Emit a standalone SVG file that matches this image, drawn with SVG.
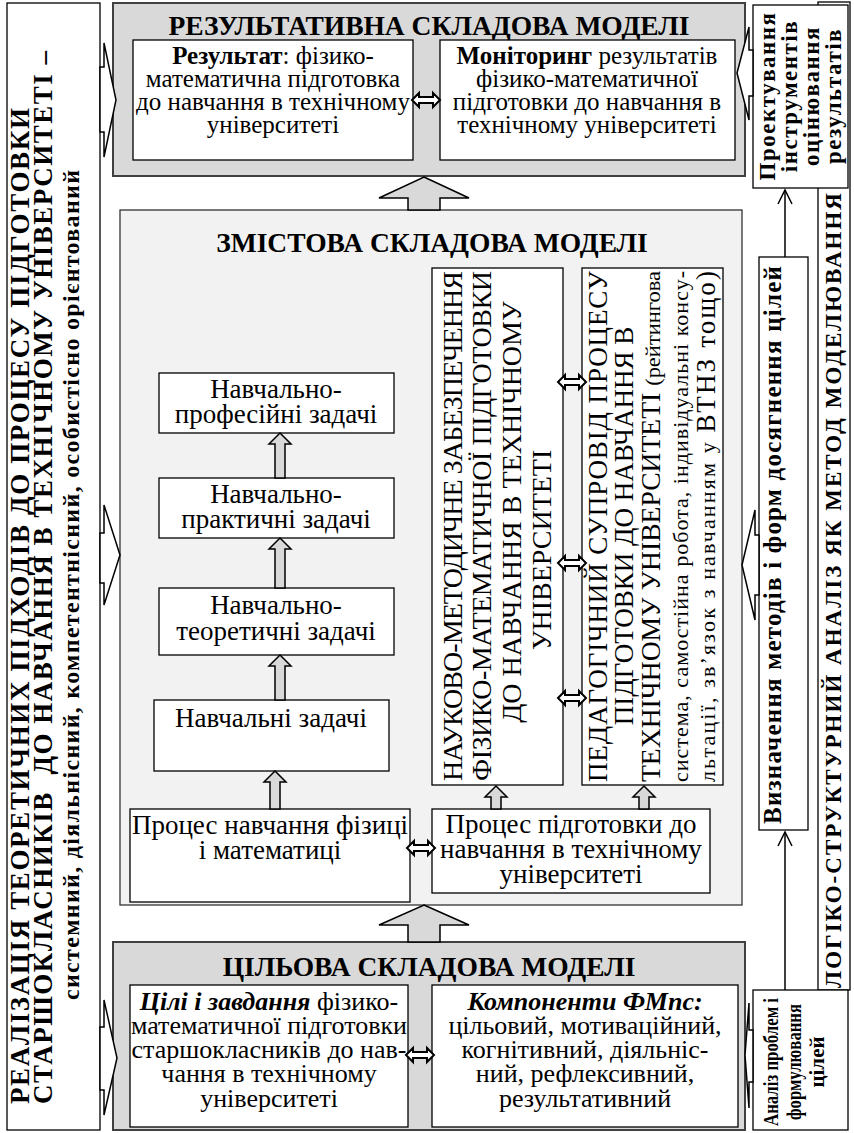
<svg xmlns="http://www.w3.org/2000/svg" width="854" height="1133" viewBox="0 0 854 1133" font-family="'Liberation Serif', serif">
<style>
text{font-family:"Liberation Serif",serif;fill:#000}
.b{font-weight:bold}
.bi{font-weight:bold;font-style:italic}
.t{font-size:25px;text-anchor:middle}
.tc{font-size:27px;text-anchor:middle}
.tg{font-size:26px;text-anchor:middle}
.h{font-size:27.5px;font-weight:bold;text-anchor:middle}
.v{font-size:28px}
.v2{font-size:27px}
.s{font-size:22px}
.rb{font-size:23px;font-weight:bold;text-anchor:middle;letter-spacing:1.5px}
.wb{fill:#fff;stroke:#000;stroke-width:1.3}
.gb{fill:#d9d9d9;stroke:#404040;stroke-width:2}
.lb{fill:#f2f2f2;stroke:#333;stroke-width:1.3}
.ha{fill:#fff;stroke:#000;stroke-width:1.5}
.ga{fill:#d9d9d9;stroke:#000;stroke-width:1.5}
.dbl{fill:#fff;stroke:#000;stroke-width:2}
.ln{fill:none;stroke:#000;stroke-width:1.5}
</style>
<defs>
<path id="dbl" class="dbl" d="M-14,0 L-7,-7 L-7,-3 L7,-3 L7,-7 L14,0 L7,7 L7,3 L-7,3 L-7,7 Z"/>
</defs>

<g id="approaches">
<rect class="wb" x="7" y="3" width="93" height="1127"/>
<text class="b" style="font-size:27px" transform="translate(29,1104) rotate(-90)" textLength="996" lengthAdjust="spacing">РЕАЛІЗАЦІЯ ТЕОРЕТИЧНИХ ПІДХОДІВ ДО ПРОЦЕСУ ПІДГОТОВКИ</text>
<text class="b" style="font-size:27px" transform="translate(52,1104) rotate(-90)" textLength="1053" lengthAdjust="spacing" xml:space="preserve">СТАРШОКЛАСНИКІВ  ДО НАВЧАННЯ В ТЕХНІЧНОМУ УНІВЕРСИТЕТІ –</text>
<text class="b" style="font-size:24px;text-anchor:middle" transform="translate(79,585) rotate(-90)" textLength="830" lengthAdjust="spacing">системний, діяльнісний, компетентнісний, особистісно орієнтований</text>
</g>

<g id="logic">
<rect class="wb" x="818" y="2" width="32" height="988"/>
<text class="b" style="font-size:23px" transform="translate(841,988) rotate(-90)" textLength="795" lengthAdjust="spacing">ЛОГІКО-СТРУКТУРНИЙ АНАЛІЗ ЯК МЕТОД МОДЕЛЮВАННЯ</text>
</g>

<g id="design">
<rect class="wb" x="753" y="5" width="95" height="183"/>
<g transform="translate(0,96) rotate(-90)">
<text class="rb" x="0" y="775">Проектування</text>
<text class="rb" x="0" y="797">інструментів</text>
<text class="rb" x="0" y="819">оцінювання</text>
<text class="rb" x="0" y="841">результатів</text>
</g>
</g>

<g id="methods">
<rect class="wb" x="759" y="257" width="49" height="573"/>
<text class="b" style="font-size:25px" transform="translate(781,824) rotate(-90)" textLength="558" lengthAdjust="spacing">Визначення методів і форм досягнення цілей</text>
</g>

<g id="analysis">
<rect class="wb" x="753" y="990" width="95" height="140"/>
<g transform="translate(0,1062) rotate(-90)" style="font-size:21px;font-weight:bold;text-anchor:middle">
<text x="0" y="778" textLength="128" lengthAdjust="spacingAndGlyphs">Аналіз проблем і</text>
<text x="0" y="801" textLength="116" lengthAdjust="spacingAndGlyphs">формулювання</text>
<text x="0" y="824">цілей</text>
</g>
</g>

<g id="result">
<rect class="gb" x="113" y="3" width="632" height="173"/>
<text class="h" x="429" y="35">РЕЗУЛЬТАТИВНА СКЛАДОВА МОДЕЛІ</text>
<rect class="wb" x="133" y="40" width="280" height="120"/>
<text class="t" x="273" y="64"><tspan class="b">Результат</tspan>: фізико-</text>
<text class="t" x="273" y="87">математична підготовка</text>
<text class="t" x="273" y="110">до навчання в технічному</text>
<text class="t" x="273" y="133">університеті</text>
<rect class="wb" x="440" y="40" width="295" height="120"/>
<text class="t" x="587" y="64"><tspan class="b">Моніторинг</tspan> результатів</text>
<text class="t" x="587" y="87">фізико-математичної</text>
<text class="t" x="587" y="110">підготовки до навчання в</text>
<text class="t" x="587" y="133">технічному університеті</text>
</g>

<g id="content">
<rect class="lb" x="120" y="210" width="622" height="695"/>
<text class="h" x="432" y="252">ЗМІСТОВА СКЛАДОВА МОДЕЛІ</text>
</g>

<g id="task-prof">
<rect class="wb" x="159" y="373" width="235" height="60"/>
<text class="tc" x="276" y="398">Навчально-</text>
<text class="tc" x="276" y="423">професійні задачі</text>
</g>
<g id="task-pract">
<rect class="wb" x="159" y="478" width="235" height="60"/>
<text class="tc" x="276" y="503">Навчально-</text>
<text class="tc" x="276" y="528">практичні задачі</text>
</g>
<g id="task-theor">
<rect class="wb" x="159" y="588" width="235" height="67"/>
<text class="tc" x="276" y="614">Навчально-</text>
<text class="tc" x="276" y="640">теоретичні задачі</text>
</g>
<g id="task-basic">
<rect class="wb" x="154" y="700" width="235" height="71"/>
<text class="tc" x="271" y="727">Навчальні задачі</text>
</g>
<g id="proc-learn">
<rect class="wb" x="130" y="809" width="280" height="93"/>
<text class="tc" x="270" y="834">Процес навчання фізиці</text>
<text class="tc" x="270" y="859">і математиці</text>
</g>
<g id="proc-prep">
<rect class="wb" x="432" y="809" width="278" height="84"/>
<text class="tc" x="571" y="833">Процес підготовки до</text>
<text class="tc" x="571" y="858">навчання в технічному</text>
<text class="tc" x="571" y="883">університеті</text>
</g>

<g id="method-support">
<rect class="wb" x="432" y="268" width="131" height="517"/>
<g transform="translate(0,526) rotate(-90)" style="text-anchor:middle">
<text class="v" x="0" y="462" textLength="510" lengthAdjust="spacing">НАУКОВО-МЕТОДИЧНЕ ЗАБЕЗПЕЧЕННЯ</text>
<text class="v" x="0" y="491" textLength="510" lengthAdjust="spacing">ФІЗИКО-МАТЕМАТИЧНОЇ ПІДГОТОВКИ</text>
<text class="v" x="14" y="521">ДО НАВЧАННЯ В ТЕХНІЧНОМУ</text>
<text class="v" x="-24" y="551">УНІВЕРСИТЕТІ</text>
</g>
</g>

<g id="ped-support">
<rect class="wb" x="582" y="268" width="141" height="517"/>
<g transform="translate(0,782) rotate(-90)">
<text class="v2" x="0" y="607" textLength="511" lengthAdjust="spacing">ПЕДАГОГІЧНИЙ СУПРОВІД ПРОЦЕСУ</text>
<text class="v2" x="256" y="633" text-anchor="middle">ПІДГОТОВКИ ДО НАВЧАННЯ В</text>
<text class="v2" x="0" y="660" textLength="511" lengthAdjust="spacingAndGlyphs">ТЕХНІЧНОМУ УНІВЕРСИТЕТІ <tspan class="s">(рейтингова</tspan></text>
<text class="s" x="0" y="688" textLength="511" lengthAdjust="spacing">система, самостійна робота, індивідуальні консу-</text>
<text class="s" x="0" y="715" textLength="511" lengthAdjust="spacing">льтації, зв’язок з навчанням у <tspan class="v2">ВТНЗ тощо)</tspan></text>
</g>
</g>

<g id="goal">
<rect class="gb" x="113" y="942" width="632" height="188"/>
<text class="h" x="429" y="976">ЦІЛЬОВА СКЛАДОВА МОДЕЛІ</text>
<rect class="wb" x="130" y="985" width="278" height="142"/>
<text class="tg" x="269" y="1010"><tspan class="bi">Цілі і завдання</tspan> фізико-</text>
<text class="tg" x="269" y="1034">математичної підготовки</text>
<text class="tg" x="269" y="1058">старшокласників до нав-</text>
<text class="tg" x="269" y="1082">чання в технічному</text>
<text class="tg" x="269" y="1107">університеті</text>
<rect class="wb" x="432" y="985" width="306" height="142"/>
<text class="tg" x="585" y="1010"><tspan class="bi">Компоненти ФМпс:</tspan></text>
<text class="tg" x="585" y="1034">цільовий, мотиваційний,</text>
<text class="tg" x="585" y="1058">когнітивний, діяльніс-</text>
<text class="tg" x="585" y="1082">ний, рефлексивний,</text>
<text class="tg" x="585" y="1107">результативний</text>
</g>

<g id="connectors">
<polygon class="ha" points="100,67 104,67 104,43 116,100 104,157 104,132 100,132"/>
<polygon class="ha" points="100,533 104,533 104,505 120,555 104,605 104,583 100,583"/>
<polygon class="ha" points="100,1027 104,1027 104,1000 117,1058 104,1115 104,1090 100,1090"/>
<polygon class="ha" points="753,50 749,50 749,27 737,73 749,120 749,96 753,96"/>
<polygon class="ha" points="759,535 755,535 755,510 742,565 755,620 755,595 759,595"/>
<polygon class="ha" points="753,1030 749,1030 749,1003 745,1055 749,1108 749,1082 753,1082"/>
<polygon class="ga" points="424,177 469,198 440,198 440,210 408,210 408,198 379,198"/>
<polygon class="ga" points="424,905 469,925 440,925 440,942 408,942 408,925 379,925"/>
<polygon class="ga" points="280,433 291,444 285,444 285,478 275,478 275,444 269,444"/>
<polygon class="ga" points="280,538 291,549 285,549 285,588 275,588 275,549 269,549"/>
<polygon class="ga" points="280,655 291,666 285,666 285,700 275,700 275,666 269,666"/>
<polygon class="ga" points="275,771 286,782 280,782 280,809 270,809 270,782 264,782"/>
<polygon class="ga" points="496,786 507,797 501,797 501,809 491,809 491,797 485,797"/>
<polygon class="ga" points="644,786 655,797 649,797 649,809 639,809 639,797 633,797"/>
<use href="#dbl" x="426" y="100"/>
<use href="#dbl" x="572" y="382"/>
<use href="#dbl" x="572" y="563"/>
<use href="#dbl" x="572" y="698"/>
<use href="#dbl" x="421" y="848"/>
<use href="#dbl" x="420" y="1055"/>
<line class="ln" x1="785" y1="990" x2="785" y2="832"/>
<polyline class="ln" points="778,846 785,832 792,846"/>
<line class="ln" x1="785" y1="257" x2="785" y2="190"/>
<polyline class="ln" points="778,204 785,190 792,204"/>
</g>
</svg>
